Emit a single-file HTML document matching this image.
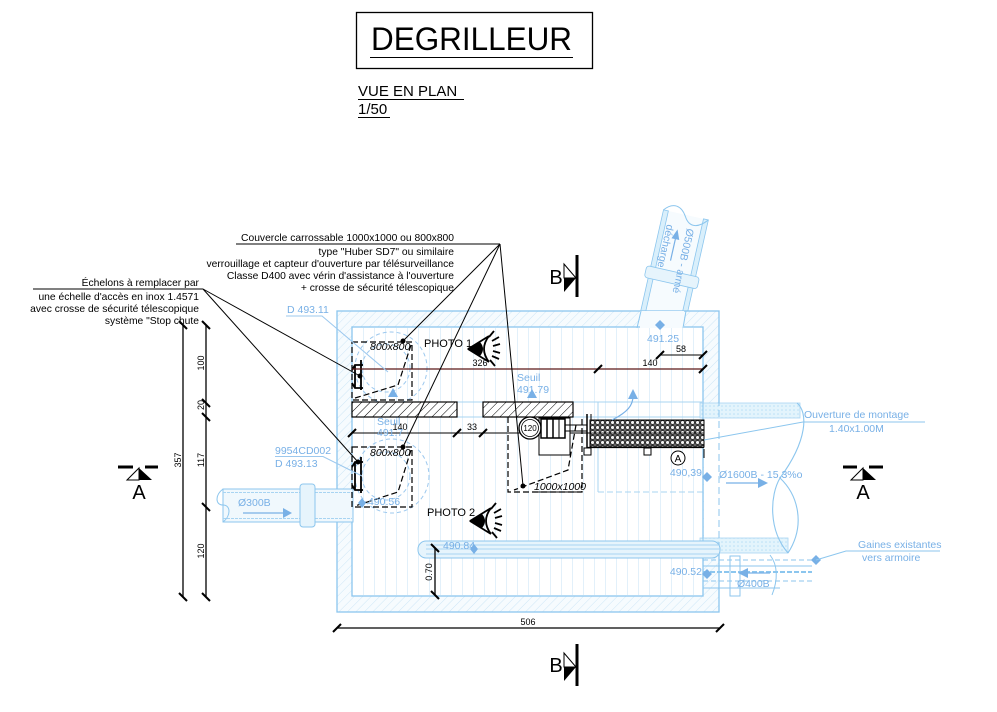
<!DOCTYPE html>
<html><head><meta charset="utf-8"><style>
html,body{margin:0;padding:0;background:#fff;}
svg{display:block;font-family:"Liberation Sans",Arial,sans-serif;}
.b{fill:#78b0e6;font-size:10.5px;}
.k{fill:#000;}
</style></head><body>
<svg width="997" height="712" viewBox="0 0 997 712" xmlns="http://www.w3.org/2000/svg">
<defs>
<pattern id="wh" width="6" height="6" patternUnits="userSpaceOnUse" patternTransform="rotate(45)"><rect width="6" height="6" fill="#f6fbfe"/><line x1="0" y1="0" x2="0" y2="6" stroke="#cde6f6" stroke-width="1"/></pattern>
<pattern id="vl" width="11" height="10" patternUnits="userSpaceOnUse"><line x1="0.5" y1="0" x2="0.5" y2="10" stroke="#e2f0fa" stroke-width="1"/></pattern>
<pattern id="bh" width="6" height="6" patternUnits="userSpaceOnUse" patternTransform="rotate(45)"><rect width="6" height="6" fill="#fff"/><line x1="0" y1="0" x2="0" y2="6" stroke="#000" stroke-width="1"/></pattern>
<pattern id="pf" width="5" height="5" patternUnits="userSpaceOnUse"><rect width="5" height="5" fill="#666"/><circle cx="2.5" cy="2.5" r="1.9" fill="#f2f2f2" stroke="#000" stroke-width="0.6"/></pattern>
<pattern id="cy" width="4" height="4" patternUnits="userSpaceOnUse"><rect width="4" height="4" fill="#e3f4fc"/><circle cx="2" cy="2" r="0.8" fill="#b9e0f6"/></pattern>
</defs>

<!-- Title -->
<rect x="356.5" y="12.5" width="236" height="56" fill="none" stroke="#000" stroke-width="1.3"/>
<text x="371" y="50" font-size="32" class="k" textLength="201" lengthAdjust="spacingAndGlyphs">DEGRILLEUR</text>
<line x1="370" y1="57.5" x2="573" y2="57.5" stroke="#000" stroke-width="1"/>
<text x="358" y="96" font-size="15" class="k">VUE EN PLAN</text>
<line x1="358" y1="99.5" x2="464" y2="99.5" stroke="#000" stroke-width="1"/>
<text x="358" y="114" font-size="15" class="k">1/50</text>
<line x1="358" y1="117.5" x2="390" y2="117.5" stroke="#000" stroke-width="1"/>

<!-- Notes -->
<g font-size="10.3" text-anchor="end" class="k">
<text x="454" y="241">Couvercle carrossable 1000x1000 ou 800x800</text>
<text x="454" y="255">type "Huber SD7" ou similaire</text>
<text x="454" y="267">verrouillage et capteur d'ouverture par télésurveillance</text>
<text x="454" y="279">Classe D400 avec vérin d'assistance à l'ouverture</text>
<text x="454" y="291">+ crosse de sécurité télescopique</text>
<text x="199" y="286">Échelons à remplacer par</text>
<text x="199" y="300">une échelle d'accès en inox 1.4571</text>
<text x="199" y="312">avec crosse de sécurité télescopique</text>
<text x="199" y="324">système "Stop chute</text>
</g>
<line x1="236" y1="244" x2="500" y2="244" stroke="#000" stroke-width="1"/>
<line x1="33" y1="289" x2="203" y2="289" stroke="#000" stroke-width="1"/>

<!-- Ø500B discharge pipe -->
<g transform="translate(660,330) rotate(12.7)">
<rect x="-23" y="-118" width="46" height="120" fill="#f6fbfe"/>
<rect x="-23" y="-118" width="5" height="120" fill="#d9effb" stroke="#8cc6ee" stroke-width="0.8"/>
<rect x="18" y="-118" width="5" height="120" fill="#d9effb" stroke="#8cc6ee" stroke-width="0.8"/>
<rect x="-27" y="-60" width="54" height="12" rx="3" fill="#e6f4fc" stroke="#8cc6ee" stroke-width="0.8"/>
<path d="M-23,-118 C-15,-128 -6,-126 0,-116 C6,-106 15,-108 23,-118" fill="none" stroke="#8cc6ee" stroke-width="1"/>
<line x1="-5" y1="-70" x2="-5" y2="-95" stroke="#78b0e6" stroke-width="1.2"/>
<polygon points="-9,-92 -5,-102 -1,-92" fill="#78b0e6"/>
</g>
<text x="687" y="228" font-size="10.5" class="b" transform="rotate(102.7 687 228)">Ø500B - armé</text>
<text x="667" y="224" font-size="10.5" class="b" transform="rotate(102.7 667 224)">décharge</text>

<!-- Building walls -->
<rect x="337" y="311" width="382" height="301" fill="url(#wh)" stroke="#8cc6ee" stroke-width="1.3"/>
<rect x="352" y="327" width="351" height="269" fill="#fff" stroke="#8cc6ee" stroke-width="1.3"/>
<rect x="353" y="328" width="349" height="267" fill="url(#vl)"/>
<rect x="640" y="311" width="44" height="17" fill="#f6fbfe"/>
<line x1="641" y1="311" x2="637" y2="328" stroke="#8cc6ee"/>
<line x1="686" y1="311" x2="683" y2="328" stroke="#8cc6ee"/>

<!-- channel lines -->
<line x1="352" y1="402" x2="703" y2="402" stroke="#a8d4f2" stroke-width="1"/>
<line x1="352" y1="417" x2="703" y2="417" stroke="#a8d4f2" stroke-width="1"/>
<line x1="598" y1="402" x2="598" y2="492" stroke="#a8d4f2" stroke-width="1"/>
<line x1="598" y1="492" x2="703" y2="492" stroke="#a8d4f2" stroke-width="1" stroke-dasharray="6 3"/>

<!-- Ø1600B right pipe -->
<rect x="704" y="403" width="16" height="150" fill="#fff"/>
<rect x="700" y="403" width="100" height="15" fill="url(#cy)" stroke="#a8d4f2" stroke-width="0.8"/>
<rect x="700" y="538" width="88" height="15" fill="url(#cy)" stroke="#a8d4f2" stroke-width="0.8"/>
<line x1="719" y1="311" x2="719" y2="612" stroke="#8cc6ee" stroke-width="1" stroke-dasharray="7 4"/>
<line x1="703" y1="403" x2="703" y2="553" stroke="#8cc6ee" stroke-width="1"/>
<path d="M797,403 C808,412 808,440 780,478 C770,495 768,530 788,553" fill="none" stroke="#8cc6ee" stroke-width="1.1"/>
<path d="M780,478 C798,495 806,525 788,553" fill="none" stroke="#8cc6ee" stroke-width="1.1"/>
<text x="719" y="478" class="b" font-size="11">Ø1600B - 15.3%o</text>
<line x1="726" y1="483" x2="760" y2="483" stroke="#78b0e6" stroke-width="1.2"/>
<polygon points="758,478 768,483 758,488" fill="#78b0e6"/>

<!-- Ø400B & gaines -->
<g stroke="#8cc6ee" stroke-width="1" fill="none">
<line x1="703" y1="560" x2="816" y2="560" stroke-dasharray="5 3"/>
<line x1="703" y1="566" x2="812" y2="566"/>
<line x1="703" y1="572" x2="812" y2="572" stroke-dasharray="5 2" stroke-width="2"/>
<line x1="703" y1="581" x2="812" y2="581" stroke-dasharray="5 3"/>
<line x1="703" y1="588" x2="780" y2="588"/>
<path d="M770,555 C778,565 778,580 772,595"/>
<rect x="730" y="556" width="10" height="40"/>
</g>
<line x1="745" y1="573" x2="770" y2="573" stroke="#78b0e6" stroke-width="1.2"/>
<polygon points="748,568 738,573 748,578" fill="#78b0e6"/>
<text x="737" y="587" class="b" font-size="10.5">Ø400B</text>

<!-- bottom conduit inside -->
<rect x="418" y="541" width="302" height="17" rx="8" fill="#e6f4fc" stroke="#8cc6ee" stroke-width="1"/>
<line x1="426" y1="545" x2="720" y2="545" stroke="#a8d4f2"/>
<line x1="426" y1="549" x2="720" y2="549" stroke="#a8d4f2"/>
<line x1="426" y1="554" x2="720" y2="554" stroke="#a8d4f2"/>
<text x="443" y="549" class="b" font-size="10">490.84</text>

<!-- Ø300B pipe -->
<rect x="223" y="489" width="130" height="33" fill="#f0f8fd" stroke="#8cc6ee" stroke-width="1"/>
<line x1="223" y1="492.5" x2="352" y2="492.5" stroke="#a8d4f2" stroke-dasharray="3 1"/>
<line x1="223" y1="518.5" x2="352" y2="518.5" stroke="#a8d4f2" stroke-dasharray="3 1"/>
<path d="M223,489 C215,495 215,505 223,505 C231,505 231,516 223,522" fill="none" stroke="#8cc6ee"/>
<rect x="300" y="484" width="15" height="43" rx="3" fill="#e6f4fc" stroke="#8cc6ee"/>
<text x="238" y="506" class="b" font-size="11">Ø300B</text>
<line x1="243" y1="513" x2="283" y2="513" stroke="#78b0e6" stroke-width="1.2"/>
<polygon points="283,508 292,513 283,518" fill="#78b0e6"/>

<!-- dashed circles -->
<g fill="none" stroke="#9cc8ee" stroke-width="1" stroke-dasharray="4 3">
<circle cx="391" cy="368" r="36"/>
<circle cx="386" cy="368" r="24"/>
<circle cx="392" cy="476" r="37"/>
<circle cx="386" cy="476" r="24"/>
</g>

<!-- slabs -->
<rect x="352" y="402" width="105" height="15" fill="url(#bh)" stroke="#000" stroke-width="1.2"/>
<rect x="483" y="402" width="90" height="15" fill="url(#bh)" stroke="#000" stroke-width="1.2"/>

<!-- 800x800 boxes -->
<g fill="none" stroke="#000" stroke-width="1.2" stroke-dasharray="6 3">
<rect x="352" y="342" width="60" height="58"/>
<path d="M411,345 L398,385 L355,398"/>
<rect x="352" y="447" width="60" height="60"/>
<path d="M411,450 L398,492 L355,506"/>
<path d="M508,417 L508,492 L582,492 L582,418"/>
<path d="M576,425 L568,470 L514,490"/>
</g>
<text x="370" y="350" font-size="10.5" font-style="italic" class="k">800x800</text>
<text x="370" y="456" font-size="10.5" font-style="italic" class="k">800x800</text>
<text x="534" y="490" font-size="10.5" font-style="italic" class="k">1000x1000</text>
<line x1="534" y1="492" x2="582" y2="492" stroke="#000"/>

<!-- ladders -->
<g stroke="#000" fill="none" stroke-width="1.8">
<path d="M361,360 L361,390 M355,365 L355,388 M352,370 L355,365 L363,365 M352,383 L355,388 L363,388"/>
<path d="M361,457 L361,493 M355,462 L355,490 M352,467 L355,462 L363,462 M352,485 L355,490 L363,490"/>
</g>

<!-- dims inner -->
<line x1="352" y1="369" x2="703" y2="369" stroke="#5a1818" stroke-width="1.2"/>
<line x1="660" y1="355" x2="703" y2="355" stroke="#000" stroke-width="1"/>
<line x1="352" y1="433" x2="590" y2="433" stroke="#000" stroke-width="1"/>
<g stroke="#000" stroke-width="2">
<line x1="594" y1="373" x2="602" y2="365"/><line x1="699" y1="373" x2="707" y2="365"/>
<line x1="656" y1="359" x2="664" y2="351"/><line x1="699" y1="359" x2="707" y2="351"/>
<line x1="348" y1="437" x2="356" y2="429"/><line x1="453" y1="437" x2="461" y2="429"/><line x1="479" y1="437" x2="487" y2="429"/>
</g>
<g font-size="9" class="k" text-anchor="middle">
<text x="480" y="366">326</text>
<text x="650" y="366">140</text>
<text x="681" y="352">58</text>
<text x="400" y="430">140</text>
<text x="472" y="430">33</text>
</g>

<!-- pump & screen -->
<rect x="539" y="418" width="31" height="37" fill="#fff" stroke="#000" stroke-width="1"/>
<circle cx="530" cy="428" r="11" fill="#fff" stroke="#000" stroke-width="1.3"/>
<circle cx="530" cy="428" r="8.5" fill="none" stroke="#000" stroke-width="0.8"/>
<text x="530" y="431" font-size="8" text-anchor="middle" class="k">120</text>
<rect x="541" y="419" width="24" height="19" fill="#fff" stroke="#000" stroke-width="1.5"/>
<line x1="547" y1="419" x2="547" y2="438" stroke="#000" stroke-width="1.5"/>
<line x1="553" y1="419" x2="553" y2="438" stroke="#000" stroke-width="1.5"/>
<line x1="559" y1="419" x2="559" y2="438" stroke="#000" stroke-width="1"/>
<line x1="565" y1="425" x2="587" y2="425" stroke="#000"/>
<line x1="565" y1="431" x2="587" y2="431" stroke="#000"/>
<line x1="587" y1="414" x2="587" y2="450" stroke="#000" stroke-width="1.5"/>
<line x1="591" y1="414" x2="591" y2="450" stroke="#000" stroke-width="1"/>
<rect x="590" y="420" width="114" height="27" fill="url(#pf)" stroke="#000" stroke-width="1"/>
<line x1="587" y1="447.5" x2="704" y2="447.5" stroke="#000" stroke-width="1.3"/>
<line x1="590" y1="433" x2="704" y2="433" stroke="#000" stroke-width="0.8"/>
<rect x="584" y="448" width="7" height="7" fill="#fff" stroke="#000"/>
<rect x="644" y="448" width="7" height="7" fill="#fff" stroke="#000"/>
<line x1="704" y1="449" x2="704" y2="458" stroke="#000"/>
<circle cx="678" cy="458" r="7" fill="#fff" stroke="#000" stroke-width="1"/>
<text x="678" y="462" font-size="10" text-anchor="middle" class="k">A</text>
<path d="M612,420 C628,412 633,405 633,396" fill="none" stroke="#78b0e6" stroke-width="1.2"/>
<polygon points="628,399 633,389 638,399" fill="#78b0e6"/>

<!-- blue labels & markers -->
<text x="517" y="381" class="b">Seuil</text>
<text x="517" y="393" class="b">491.79</text>
<polygon points="527,398 532,389 537,398" fill="#78b0e6"/>
<text x="377" y="425" class="b">Seuil</text>
<text x="377" y="436" class="b">491.7</text>
<polygon points="388,397 393,388 398,397" fill="#78b0e6"/>
<text x="647" y="342" class="b">491.25</text>
<text x="702" y="476" class="b" text-anchor="end">490,39</text>
<text x="702" y="575" class="b" text-anchor="end">490.52</text>
<text x="368" y="505" class="b" font-size="10">490.56</text>
<g fill="#78b0e6">
<polygon points="660,320 665,325 660,330 655,325"/>
<polygon points="707,472 712,477 707,482 702,477"/>
<polygon points="707,569 712,574 707,579 702,574"/>
<polygon points="816,555 821,560 816,565 811,560"/>
<polygon points="474,544 478,549 474,554 470,549"/>
<polygon points="362,498 366,503 362,508 358,503"/>
</g>
<text x="287" y="313" class="b" font-size="10">D 493.11</text>
<path d="M286,316 L322,316 L388,372" fill="none" stroke="#9cc8ee" stroke-width="1"/>
<text x="275" y="454" class="b" font-size="10">9954CD002</text>
<text x="275" y="467" class="b" font-size="10">D 493.13</text>
<path d="M275,456.5 L323,456.5 L362,476" fill="none" stroke="#9cc8ee" stroke-width="1"/>
<text x="804" y="418" class="b" font-size="11">Ouverture de montage</text>
<text x="829" y="432" class="b" font-size="11">1.40x1.00M</text>
<path d="M704,440 L803,422 L925,422" fill="none" stroke="#8cc6ee" stroke-width="1"/>
<text x="858" y="548" class="b" font-size="11">Gaines existantes</text>
<text x="862" y="561" class="b" font-size="11">vers armoire</text>
<path d="M816,560 L846,551 L940,551" fill="none" stroke="#8cc6ee" stroke-width="1"/>

<!-- PHOTO labels & eyes -->
<text x="424" y="347" font-size="11" class="k">PHOTO 1</text>
<g stroke="#000" stroke-width="1.8" fill="none">
<path d="M468,349 L489,336 M468,349 L489,362 M489,336 Q479,349 489,362"/>
<path d="M489,337 L494,331 M492,341 L499,337 M493,346 L500,344 M493,351 L500,353 M492,356 L499,359 M490,360 L495,366"/>
</g>
<path d="M467,349 L480,342 Q486,349 480,356 Z" fill="#000"/>
<text x="427" y="516" font-size="11" class="k">PHOTO 2</text>
<g stroke="#000" stroke-width="1.8" fill="none">
<path d="M470,521 L491,508 M470,521 L491,534 M491,508 Q481,521 491,534"/>
<path d="M491,509 L496,503 M494,513 L501,509 M495,518 L502,516 M495,523 L502,525 M494,528 L501,531 M492,532 L497,538"/>
</g>
<path d="M469,521 L482,514 Q488,521 482,528 Z" fill="#000"/>

<!-- leaders -->
<g stroke="#000" stroke-width="1" fill="none">
<line x1="500" y1="244" x2="403" y2="341"/>
<line x1="500" y1="244" x2="403" y2="447"/>
<line x1="500" y1="244" x2="523" y2="486"/>
<line x1="203" y1="289" x2="360" y2="376"/>
<line x1="203" y1="289" x2="358" y2="462"/>
</g>
<g fill="#000">
<circle cx="403" cy="341" r="2.5"/><circle cx="403" cy="447" r="2.5"/><circle cx="523" cy="486" r="2.5"/>
<circle cx="360" cy="376" r="2.5"/><circle cx="358" cy="462" r="2.5"/>
</g>

<!-- left dims -->
<g stroke="#000" stroke-width="1.3">
<line x1="183" y1="325" x2="183" y2="597"/>
<line x1="206" y1="325" x2="206" y2="597"/>
</g>
<g stroke="#000" stroke-width="2">
<line x1="179" y1="321" x2="187" y2="329"/><line x1="179" y1="593" x2="187" y2="601"/>
<line x1="202" y1="321" x2="210" y2="329"/><line x1="202" y1="399" x2="210" y2="407"/>
<line x1="202" y1="413" x2="210" y2="421"/><line x1="202" y1="503" x2="210" y2="511"/>
<line x1="202" y1="593" x2="210" y2="601"/>
</g>
<g font-size="9" class="k" text-anchor="middle">
<text transform="translate(181,460) rotate(-90)">357</text>
<text transform="translate(204,363) rotate(-90)">100</text>
<text transform="translate(204,405) rotate(-90)">20</text>
<text transform="translate(204,460) rotate(-90)">117</text>
<text transform="translate(204,551) rotate(-90)">120</text>
<text transform="translate(432,572) rotate(-90)">0.70</text>
</g>
<line x1="435" y1="548" x2="435" y2="595" stroke="#000" stroke-width="1.3"/>
<g stroke="#000" stroke-width="2">
<line x1="431" y1="544" x2="439" y2="552"/><line x1="431" y1="591" x2="439" y2="599"/>
</g>
<line x1="337" y1="628" x2="720" y2="628" stroke="#000" stroke-width="1.3"/>
<g stroke="#000" stroke-width="2">
<line x1="333" y1="632" x2="341" y2="624"/><line x1="716" y1="632" x2="724" y2="624"/>
</g>
<text x="528" y="625" font-size="9" text-anchor="middle" class="k">506</text>

<!-- Section A markers -->
<g>
<line x1="118" y1="467" x2="133" y2="467" stroke="#000" stroke-width="3"/>
<line x1="145" y1="467" x2="158" y2="467" stroke="#000" stroke-width="3"/>
<polygon points="127,480 139,468 139,480" fill="#fff" stroke="#000" stroke-width="1"/>
<polygon points="139,468 152,480 139,480" fill="#000"/>
<text x="139" y="499" font-size="20" text-anchor="middle" class="k">A</text>
<line x1="843" y1="467" x2="857" y2="467" stroke="#000" stroke-width="3"/>
<line x1="869" y1="467" x2="883" y2="467" stroke="#000" stroke-width="3"/>
<polygon points="851,480 863,468 863,480" fill="#fff" stroke="#000" stroke-width="1"/>
<polygon points="863,468 876,480 863,480" fill="#000"/>
<text x="863" y="499" font-size="20" text-anchor="middle" class="k">A</text>
</g>
<!-- Section B markers -->
<g>
<line x1="577" y1="255" x2="577" y2="297" stroke="#000" stroke-width="3"/>
<polygon points="564,264 576,278 564,278" fill="#fff" stroke="#000" stroke-width="1"/>
<polygon points="564,278 576,278 564,292" fill="#000"/>
<text x="556" y="284" font-size="20" text-anchor="middle" class="k">B</text>
<line x1="577" y1="644" x2="577" y2="686" stroke="#000" stroke-width="3"/>
<polygon points="564,653 576,667 564,667" fill="#fff" stroke="#000" stroke-width="1"/>
<polygon points="564,667 576,667 564,681" fill="#000"/>
<text x="556" y="672" font-size="20" text-anchor="middle" class="k">B</text>
</g>
</svg>
</body></html>
